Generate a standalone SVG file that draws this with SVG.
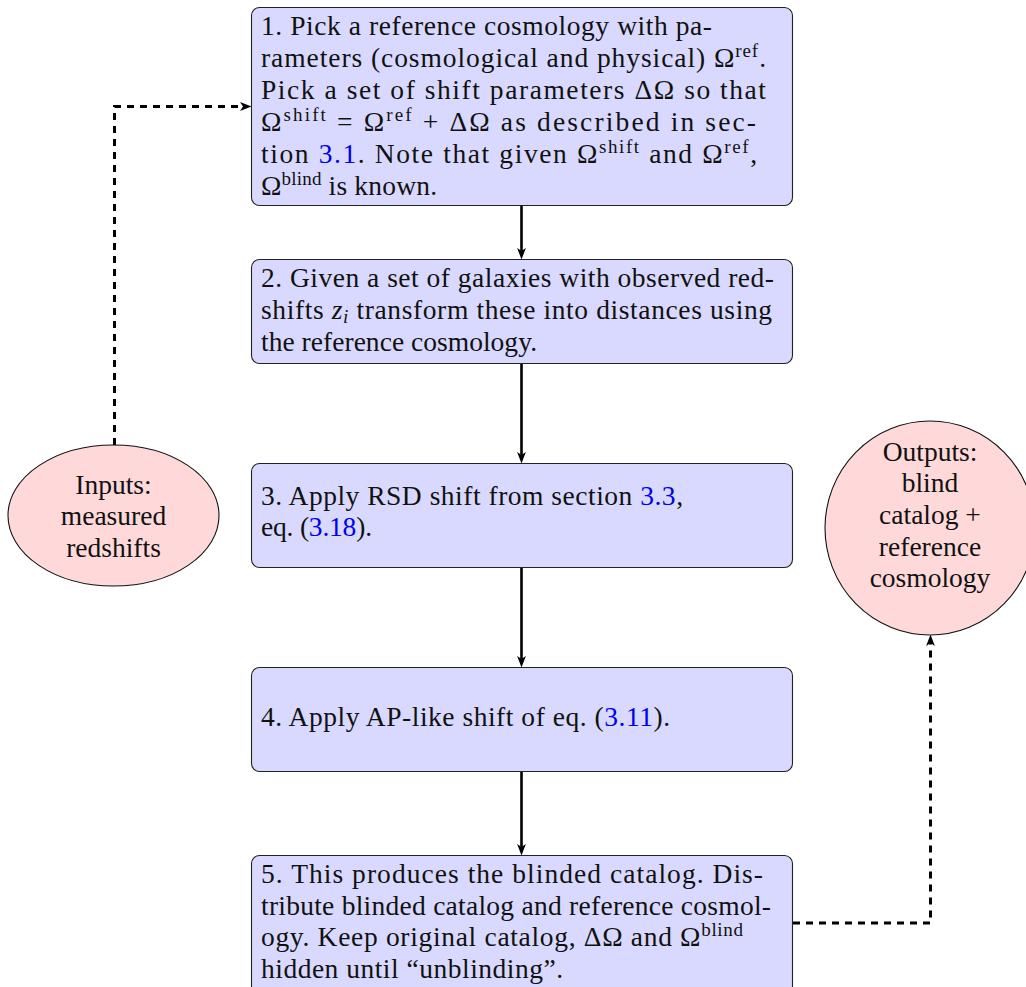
<svg xmlns="http://www.w3.org/2000/svg" width="1026" height="987" viewBox="0 0 1026 987" font-family="'Liberation Serif', 'DejaVu Serif', serif">
<defs>
<style>
.box{fill:#d9d9ff;stroke:#222;stroke-width:1.1}
.ell{fill:#ffd9d9;stroke:#111;stroke-width:1.1}
.t{font-family:'Liberation Serif','DejaVu Serif',serif;font-size:27.5px;fill:#111}
.c{text-anchor:middle}
.lk{fill:#0000ee}
.sup{font-size:19px}
.solid{fill:none;stroke:#000;stroke-width:2.6}
.dash{fill:none;stroke:#000;stroke-width:3;stroke-dasharray:7 6}
</style>
<marker id="ah" markerUnits="userSpaceOnUse" viewBox="0 0 12 10" markerWidth="12" markerHeight="10" refX="7" refY="5" orient="auto">
<path d="M0,0.6 L11.5,5 L0,9.4 L3,5 z" fill="#000"/>
</marker>
</defs>

<g id="connectors">
<path class="solid" d="M521.5,205 V255" marker-end="url(#ah)"/>
<path class="solid" d="M521.5,363 V459" marker-end="url(#ah)"/>
<path class="solid" d="M521.5,567 V663" marker-end="url(#ah)"/>
<path class="solid" d="M521.5,771 V851" marker-end="url(#ah)"/>
<path class="dash" d="M114.5,445 V106.5 H247" marker-end="url(#ah)"/>
<path class="dash" d="M793,923 H930.5 V639" marker-end="url(#ah)"/>
</g>

<g id="node1" class="t">
<rect class="box" x="251.5" y="7.5" width="541" height="198" rx="8"/>
<text x="261" y="35" textLength="451">1. Pick a reference cosmology with pa-</text>
<text x="261" y="67" textLength="505">rameters (cosmological and physical) Ω<tspan class="sup" dy="-10">ref</tspan><tspan dy="10">.</tspan></text>
<text x="261" y="99" textLength="505">Pick a set of shift parameters ΔΩ so that</text>
<text x="261" y="131" textLength="495">Ω<tspan class="sup" dy="-10">shift</tspan><tspan dy="10">  =  Ω</tspan><tspan class="sup" dy="-10">ref</tspan><tspan dy="10"> + ΔΩ as described in sec-</tspan></text>
<text x="261" y="163" textLength="496">tion <tspan class="lk">3.1</tspan>. Note that given Ω<tspan class="sup" dy="-10">shift</tspan><tspan dy="10"> and Ω</tspan><tspan class="sup" dy="-10">ref</tspan><tspan dy="10">,</tspan></text>
<text x="261" y="195" textLength="176">Ω<tspan class="sup" dy="-10">blind</tspan><tspan dy="10"> is known.</tspan></text>
</g>

<g id="node2" class="t">
<rect class="box" x="251.5" y="259.5" width="541" height="104" rx="8"/>
<text x="261" y="287" textLength="513">2. Given a set of galaxies with observed red-</text>
<text x="261" y="319" textLength="511">shifts <tspan font-style="italic">z</tspan><tspan class="sup" font-style="italic" dy="4">i</tspan><tspan dy="-4"> transform these into distances using</tspan></text>
<text x="261" y="351" textLength="276">the reference cosmology.</text>
</g>

<g id="node3" class="t">
<rect class="box" x="251.5" y="463.5" width="541" height="104" rx="8"/>
<text x="261" y="505" textLength="422">3. Apply RSD shift from section <tspan class="lk">3.3</tspan>,</text>
<text x="261" y="536" textLength="111">eq. (<tspan class="lk">3.18</tspan>).</text>
</g>

<g id="node4" class="t">
<rect class="box" x="251.5" y="667.5" width="541" height="104" rx="8"/>
<text x="261" y="726" textLength="409">4. Apply AP-like shift of eq. (<tspan class="lk">3.11</tspan>).</text>
</g>

<g id="node5" class="t">
<rect class="box" x="251.5" y="855.5" width="541" height="140" rx="8"/>
<text x="261" y="883" textLength="502">5. This produces the blinded catalog. Dis-</text>
<text x="261" y="915" textLength="510">tribute blinded catalog and reference cosmol-</text>
<text x="261" y="946" textLength="482">ogy. Keep original catalog, ΔΩ and Ω<tspan class="sup" dy="-10">blind</tspan></text>
<text x="261" y="978" textLength="302">hidden until “unblinding”.</text>
</g>

<g id="inputs" class="t">
<ellipse class="ell" cx="113.5" cy="515.5" rx="105.5" ry="70.5"/>
<text class="c" x="113.5" y="494">Inputs:</text>
<text class="c" x="113.5" y="525">measured</text>
<text class="c" x="113.5" y="557">redshifts</text>
</g>

<g id="outputs" class="t">
<ellipse class="ell" cx="930" cy="528" rx="105" ry="107"/>
<text class="c" x="930" y="461">Outputs:</text>
<text class="c" x="930" y="492">blind</text>
<text class="c" x="930" y="524">catalog +</text>
<text class="c" x="930" y="556">reference</text>
<text class="c" x="930" y="587">cosmology</text>
</g>
</svg>
